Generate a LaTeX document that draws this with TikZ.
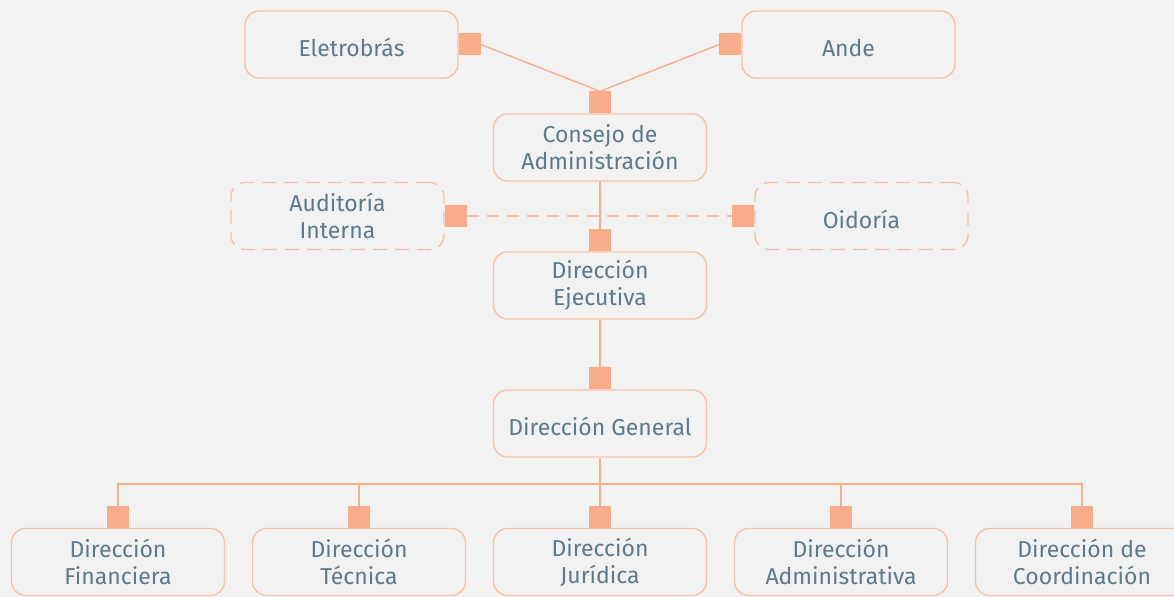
\documentclass[tikz,border=0pt]{standalone}
\usepackage{fontspec}
\setmainfont{Fira Sans}
\usetikzlibrary{positioning}
\definecolor{salmon}{HTML}{F9AC89}
\definecolor{boxline}{HTML}{F7C1A8}
\definecolor{linkline}{HTML}{F7AD8E}
\definecolor{txt}{HTML}{5E7A89}
\definecolor{bg}{HTML}{F2F2F2}
\tikzstyle{box} = [draw=boxline, line width=0.7pt, rounded corners=7pt, minimum width=106.5pt, minimum height=33.5pt, align=center, text=txt, font=\fontsize{11.5}{13.5}\selectfont, inner sep=2pt, execute at begin node={\rule{0pt}{12.5pt}}]
\tikzstyle{dashbox} = [box, dash pattern=on 7pt off 4pt]
\tikzstyle{tab} = [fill=salmon, minimum size=11pt, inner sep=0pt, outer sep=0pt]
\tikzstyle{link} = [draw=linkline, line width=0.7pt]

\begin{document}
\begin{tikzpicture}[x=0.5pt,y=-0.5pt]
\fill[bg] (0,0) rectangle (1174,597);
\useasboundingbox (0,0) rectangle (1174,597);

\node[box] (ele) at (351.5,44.5) {Eletrobrás};
\node[box] (ande) at (848.5,44.5) {Ande};
\node[box] (con) at (600,147.5) {Consejo de\\Administración};
\node[dashbox] (aud) at (337.5,216) {Auditoría\\Interna};
\node[dashbox] (oid) at (861.5,216) {Oidoría};
\node[box] (eje) at (600,285.5) {Dirección\\Ejecutiva};
\node[box] (gen) at (600,423.5) {Dirección General};
\node[box] (fin) at (118,562) {Dirección\\Financiera};
\node[box] (tec) at (359,562) {Dirección\\Técnica};
\node[box] (jur) at (600,562) {Dirección\\Jurídica};
\node[box] (adm) at (841,562) {Dirección\\Administrativa};
\node[box] (coo) at (1082,562) {Dirección de\\Coordinación};

\node[tab, right=0pt of ele] (ele-t) {};
\node[tab, left=0pt of ande] (ande-t) {};
\node[tab, above=0pt of con] (con-t) {};
\node[tab, right=0pt of aud] (aud-t) {};
\node[tab, left=0pt of oid] (oid-t) {};
\node[tab, above=0pt of eje] (eje-t) {};
\node[tab, above=0pt of gen] (gen-t) {};
\foreach \n in {fin,tec,jur,adm,coo}
  \node[tab, above=0pt of \n] (\n-t) {};

\draw[link] (ele-t.east) -- (con-t.north);
\draw[link] (ande-t.west) -- (con-t.north);
\draw[link] (con) -- (eje-t);
\draw[link, draw=boxline, dash pattern=on 6pt off 4pt] (aud-t) -- (oid-t);
\draw[link] (eje) -- (gen-t);
\coordinate (bus) at (600,484);
\draw[link] (gen) -- (bus);
\foreach \n in {fin,tec,jur,adm,coo}
  \draw[link] (bus) -| (\n-t.north);
\end{tikzpicture}
\end{document}
